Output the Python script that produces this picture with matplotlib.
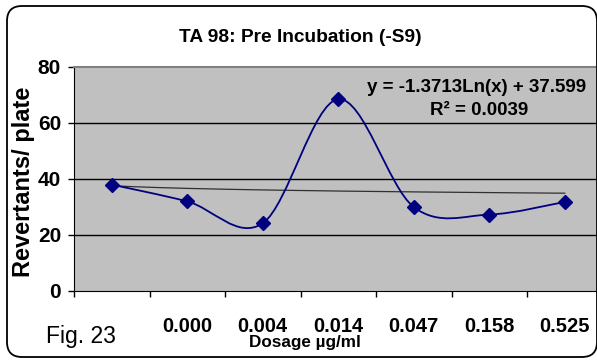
import numpy as np
import matplotlib
matplotlib.use("Agg")
import matplotlib.pyplot as plt
import matplotlib.transforms as mtransforms
from matplotlib.path import Path
from matplotlib.patches import PathPatch, FancyBboxPatch

# data
categories = ["", "0.000", "0.004", "0.014", "0.047", "0.158", "0.525"]
revertants = [38, 32, 24.2, 68.5, 30, 27.3, 31.8]
trend_a, trend_b = -1.3713, 37.599   # y = a*ln(x) + b
r2 = 0.0039

W, H = 597, 364
plt.rcParams['font.family'] = ['Liberation Sans', 'DejaVu Sans']

fig = plt.figure(figsize=(W / 100, H / 100), dpi=100)
ax = fig.add_axes([74 / W, 73 / H, 528.5 / W, 224 / H])

x = np.arange(1, len(revertants) + 1)
y = np.array(revertants, dtype=float)

# smoothed line (Catmull-Rom style bezier through the points, like Excel)
verts = [(x[0], y[0])]
codes = [Path.MOVETO]
n = len(x)
for i in range(n - 1):
    p0 = np.array([x[max(i - 1, 0)], y[max(i - 1, 0)]])
    p1 = np.array([x[i], y[i]])
    p2 = np.array([x[i + 1], y[i + 1]])
    p3 = np.array([x[min(i + 2, n - 1)], y[min(i + 2, n - 1)]])
    c1 = p1 + (p2 - p0) / 6.0
    c2 = p2 - (p3 - p1) / 6.0
    verts += [tuple(c1), tuple(c2), tuple(p2)]
    codes += [Path.CURVE4] * 3
ax.add_patch(PathPatch(Path(verts, codes), facecolor='none', edgecolor='#000080', lw=1.3, zorder=3))
ax.plot(x, y, linestyle='none', marker='D', ms=7, color='#000080', zorder=4)

# log trendline
tx = np.linspace(1, n, 200)
ax.plot(tx, trend_a * np.log(tx) + trend_b, color='#303030', lw=0.9, zorder=2)

ax.set_facecolor('#C0C0C0')
ax.set_xlim(0.5, n + 0.5)
ax.set_ylim(0, 80)
ax.set_yticks([0, 20, 40, 60, 80])
ax.set_yticklabels(['0', '20', '40', '60', '80'], fontsize=15, fontweight='bold')
for v in [20, 40, 60]:
    ax.axhline(v, color='black', lw=1, zorder=1)
ax.spines['top'].set_color('#808080')
ax.spines['top'].set_linewidth(1.5)
ax.spines['right'].set_visible(False)
ax.spines['left'].set_color('black')
ax.spines['bottom'].set_color('black')

ax.set_xticks(np.arange(0.5, n + 1, 1.0))
ax.set_xticklabels([])
ax.tick_params(axis='x', which='major', length=4.3, width=1, direction='out')
ax.tick_params(axis='y', length=4.3, width=1, direction='out', pad=5)

# category labels, far below the axis as in the reference
blend = mtransforms.blended_transform_factory(ax.transData, fig.transFigure)
for xi, lab in zip(x, categories):
    fig.text(xi, 1 - 332 / H, lab, transform=blend, ha='center', va='baseline',
             fontsize=14.5, fontweight='bold')

fig.text(24 / W, 1 - 182 / H, 'Revertants/ plate', rotation=90, ha='center', va='center',
         fontsize=17, fontweight='bold')

fig.text(477 / W, 1 - 92 / H, 'y = -1.3713Ln(x) + 37.599', ha='center', va='baseline',
         fontsize=13.5, fontweight='bold')
fig.text(479 / W, 1 - 115 / H, 'R² = %.4f' % r2, ha='center', va='baseline',
         fontsize=13.5, fontweight='bold')

fig.text(300 / W, 1 - 42 / H, 'TA 98: Pre Incubation (-S9)', ha='center', va='baseline',
         fontsize=13.8, fontweight='bold')
fig.text(46 / W, 1 - 343 / H, 'Fig. 23', ha='left', va='baseline', fontsize=16.5)
fig.text(305 / W, 1 - 347 / H, 'Dosage µg/ml', ha='center', va='baseline',
         fontsize=12.3, fontweight='bold')

# rounded chart border (pixel coordinates)
border = FancyBboxPatch((7 + 15, 7 + 15), 590 - 30, 351 - 30,
                        boxstyle='round,pad=15', transform=None,
                        facecolor='none', edgecolor='black', lw=1.3)
fig.patches.append(border)

fig.savefig('out.png', dpi=100)
